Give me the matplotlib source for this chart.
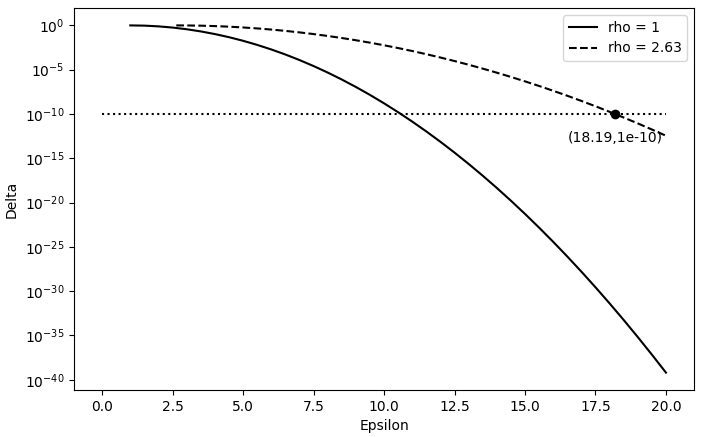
import matplotlib
matplotlib.use("Agg")
import matplotlib.pyplot as plt
from matplotlib.ticker import NullLocator

# epsilon grid and log10(delta)
eps_rho1 = [1, 1.5, 2, 2.5, 3, 3.5, 4, 4.5, 5, 5.5, 6, 6.5, 7, 7.5, 8, 8.5, 9, 9.5, 10, 10.5,
            11, 11.5, 12, 12.5, 13, 13.5, 14, 14.5, 15, 15.5, 16, 16.5, 17, 17.5, 18, 18.5,
            19, 19.5, 20]
logd_rho1 = [0.0, -0.027, -0.109, -0.244, -0.434, -0.679, -0.977, -1.330, -1.737, -2.199,
             -2.714, -3.284, -3.909, -4.587, -5.320, -6.107, -6.949, -7.844, -8.795, -9.799,
             -10.857, -11.970, -13.137, -14.359, -15.635, -16.965, -18.349, -19.787, -21.280,
             -22.828, -24.429, -26.085, -27.795, -29.559, -31.378, -33.250, -35.178, -37.159,
             -39.195]

eps_rho263 = [2.63, 3, 3.5, 4, 4.5, 5, 5.5, 6, 6.5, 7, 7.5, 8, 8.5, 9, 9.5, 10, 10.5, 11,
              11.5, 12, 12.5, 13, 13.5, 14, 14.5, 15, 15.5, 16, 16.5, 17, 17.5, 18, 18.5,
              19, 19.5, 20]
logd_rho263 = [0.0, -0.006, -0.031, -0.078, -0.144, -0.232, -0.340, -0.469, -0.618, -0.788,
               -0.979, -1.191, -1.423, -1.675, -1.948, -2.242, -2.557, -2.892, -3.248,
               -3.625, -4.022, -4.439, -4.878, -5.337, -5.817, -6.317, -6.838, -7.380,
               -7.942, -8.525, -9.128, -9.753, -10.397, -11.063, -11.749, -12.456]

target_delta = 1e-10
hline_x = [0, 20]
point_eps = 18.19

fig = plt.figure(figsize=(7.04, 4.37), dpi=100)
ax = fig.add_axes([0.105, 0.1076, 0.881, 0.874])

ax.plot(eps_rho1, [10 ** v for v in logd_rho1], color="black", linestyle="-", label="rho = 1")
ax.plot(eps_rho263, [10 ** v for v in logd_rho263], color="black", linestyle="--", label="rho = 2.63")
ax.plot(hline_x, [target_delta, target_delta], color="black", linestyle=":")
ax.plot([point_eps], [target_delta], "o", color="black")
ax.annotate(f"({point_eps},1e-10)", xy=(point_eps, target_delta), xytext=(0, -20),
            textcoords="offset points", ha="center")

ax.set_yscale("log")
ax.set_yticks([10.0 ** k for k in range(0, -41, -5)])
ax.yaxis.set_minor_locator(NullLocator())
ax.set_xlabel("Epsilon")
ax.set_ylabel("Delta")
ax.legend(loc="upper right")

fig.savefig("out.png", dpi=100)
